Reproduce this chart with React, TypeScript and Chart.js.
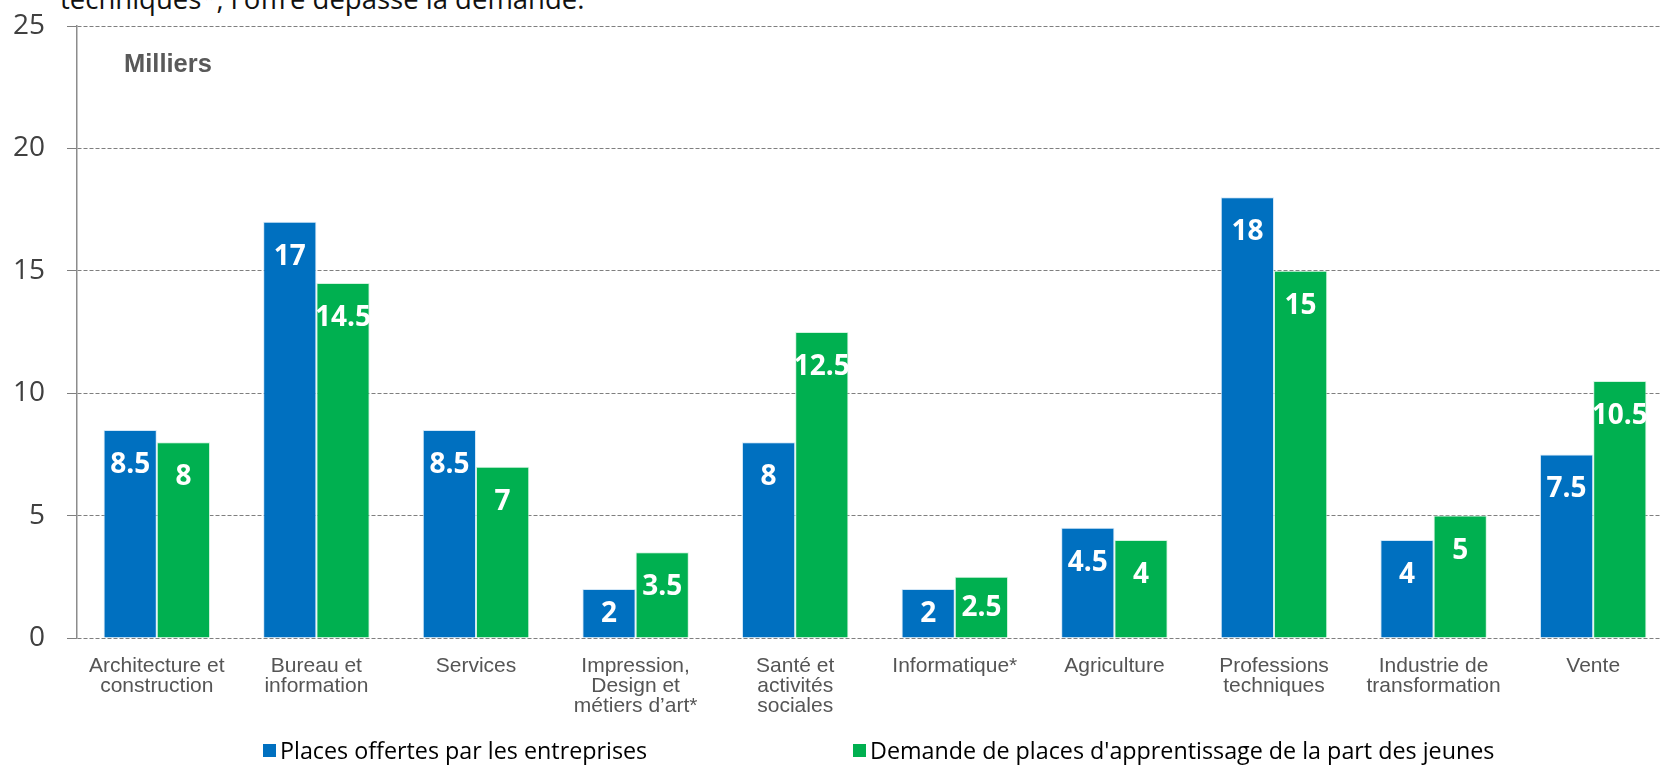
import React, { useEffect, useRef } from "react";
import { Chart, registerables } from "chart.js";

Chart.register(...registerables);

const categories: string[][] = [
  ["Architecture et", "construction"],
  ["Bureau et", "information"],
  ["Services"],
  ["Impression,", "Design et", "métiers d’art*"],
  ["Santé et", "activités", "sociales"],
  ["Informatique*"],
  ["Agriculture"],
  ["Professions", "techniques"],
  ["Industrie de", "transformation"],
  ["Vente"],
];

const placesOffertes: number[] = [8.5, 17, 8.5, 2, 8, 2, 4.5, 18, 4, 7.5];
const demandeJeunes: number[] = [8, 14.5, 7, 3.5, 12.5, 2.5, 4, 15, 5, 10.5];

const seriesNames: string[] = [
  "Places offertes par les entreprises",
  "Demande de places d'apprentissage de la part des jeunes",
];

const yTicks: number[] = [0, 5, 10, 15, 20, 25];

const BLUE = "#0070C0";
const GREEN = "#00B050";

const dataLabelPlugin = {
  id: "dataLabels",
  afterDatasetsDraw(chart: any) {
    const ctx = chart.ctx;
    ctx.save();
    ctx.fillStyle = "#ffffff";
    ctx.font = "bold 28px 'Open Sans'";
    ctx.textAlign = "center";
    ctx.textBaseline = "middle";
    chart.data.datasets.forEach((ds: any, di: number) => {
      const meta = chart.getDatasetMeta(di);
      meta.data.forEach((el: any, i: number) => {
        const h = el.base - el.y;
        const cy = el.y + Math.min(34, h / 2);
        ctx.fillText(String(ds.data[i]), el.x, cy + 1);
      });
    });
    ctx.restore();
  },
};

export default function App() {
  const ref = useRef<HTMLCanvasElement | null>(null);

  useEffect(() => {
    if (!ref.current) return;
    const chart = new Chart(ref.current, {
      type: "bar",
      data: {
        labels: categories,
        datasets: [
          {
            label: seriesNames[0],
            data: placesOffertes,
            backgroundColor: BLUE,
            borderColor: "rgba(200,225,245,0.8)",
            borderWidth: 1,
            categoryPercentage: 0.667,
            barPercentage: 1,
          },
          {
            label: seriesNames[1],
            data: demandeJeunes,
            backgroundColor: GREEN,
            borderColor: "rgba(200,240,215,0.8)",
            borderWidth: 1,
            categoryPercentage: 0.667,
            barPercentage: 1,
          },
        ],
      },
      options: {
        responsive: false,
        animation: false,
        devicePixelRatio: 1,
        layout: { padding: { top: 26, right: 27, left: 0, bottom: 0 } },
        plugins: {
          legend: { display: false },
          tooltip: { enabled: false },
          title: { display: false },
        },
        scales: {
          x: {
            grid: { display: false, drawTicks: false },
            border: { display: false },
            ticks: {
              color: "#555555",
              padding: 18,
              maxRotation: 0,
              autoSkip: false,
              font: { family: "'Liberation Sans', Arial, sans-serif", size: 21, lineHeight: "20px" },
            },
            afterFit: (scale: any) => {
              scale.height = 127;
              scale.paddingLeft = 0;
              scale.paddingRight = 0;
            },
          },
          y: {
            min: 0,
            max: 25,
            afterBuildTicks: (scale: any) => {
              scale.ticks = yTicks.map((v) => ({ value: v }));
            },
            grid: {
              color: "#7f7f7f",
              lineWidth: 1,
              tickLength: 10,
              tickColor: "#7f7f7f",
              drawTicks: true,
            },
            border: { display: true, color: "#8c8c8c", width: 1.5, dash: [4, 2] },
            ticks: {
              color: "#404040",
              padding: 22,
              font: { family: "'Open Sans', sans-serif", size: 28 },
            },
            afterFit: (scale: any) => {
              scale.width = 77;
              scale.paddingTop = 0;
              scale.paddingBottom = 0;
            },
          },
        },
      },
      plugins: [dataLabelPlugin],
    });
    return () => chart.destroy();
  }, []);

  return (
    <div
      style={{
        position: "fixed",
        left: 0,
        top: 0,
        width: 1661,
        height: 765,
        overflow: "hidden",
        background: "#ffffff",
      }}
    >
      <div
        style={{
          position: "absolute",
          left: 60,
          top: -19,
          fontFamily: "'Open Sans', sans-serif",
          fontSize: 27.5,
          lineHeight: "36px",
          color: "#111",
          whiteSpace: "nowrap",
        }}
      >
        techniques*, l'offre dépasse la demande.
      </div>
      <canvas ref={ref} width={1700} height={765} style={{ position: "absolute", left: 0, top: 0 }} />
      <div
        style={{
          position: "absolute",
          left: 124,
          top: 49,
          fontFamily: "'Liberation Sans', Arial, sans-serif",
          fontWeight: "bold",
          fontSize: 25.5,
          color: "#595959",
          whiteSpace: "nowrap",
        }}
      >
        Milliers
      </div>
      <div
        style={{
          position: "absolute",
          left: 263,
          top: 734,
          display: "flex",
          alignItems: "center",
          fontFamily: "'Open Sans', sans-serif",
          fontSize: 23.3,
          color: "#000",
          whiteSpace: "nowrap",
        }}
      >
        <span style={{ display: "inline-block", width: 13, height: 13, background: BLUE, marginRight: 4 }} />
        {seriesNames[0]}
      </div>
      <div
        style={{
          position: "absolute",
          left: 853,
          top: 734,
          display: "flex",
          alignItems: "center",
          fontFamily: "'Open Sans', sans-serif",
          fontSize: 23.3,
          color: "#000",
          whiteSpace: "nowrap",
        }}
      >
        <span style={{ display: "inline-block", width: 13, height: 13, background: GREEN, marginRight: 4 }} />
        {seriesNames[1]}
      </div>
    </div>
  );
}
